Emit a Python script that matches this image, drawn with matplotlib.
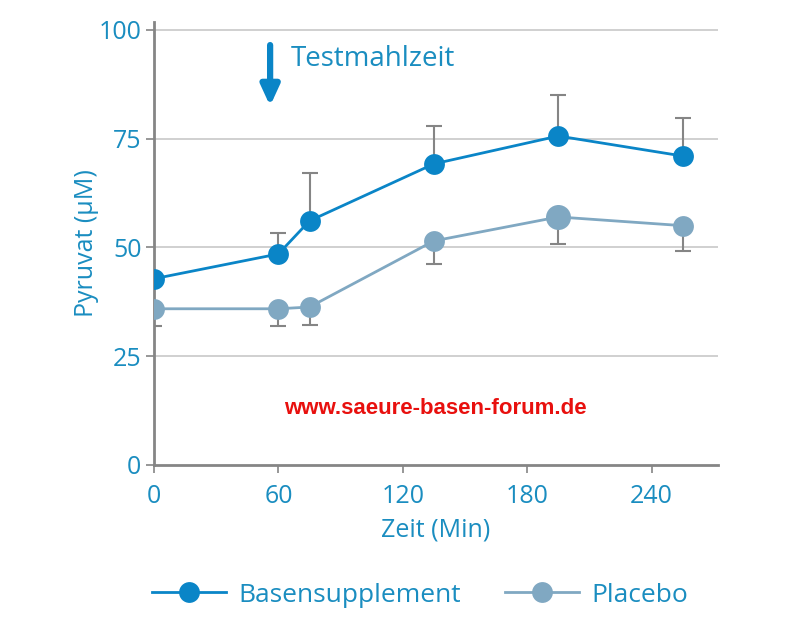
import matplotlib
matplotlib.use("Agg")
import matplotlib.pyplot as plt
import numpy as np
from matplotlib.lines import Line2D

# data
zeit = [0, 60, 75, 135, 195, 255]
basen = [42.8, 48.5, 56.1, 69.2, 75.6, 71.0]
basen_oben = [42.8, 53.3, 67.1, 77.9, 85.1, 79.8]
placebo = [35.9, 35.9, 36.3, 51.5, 57.0, 55.0]
placebo_unten = [32.0, 32.0, 32.2, 46.2, 50.8, 49.2]
y_ticks = [0, 25, 50, 75, 100]
x_ticks = [0, 60, 120, 180, 240]

blau = "#0a85c7"
grau_blau = "#80a8c2"
text_blau = "#1a8dc0"
achse = "#858585"

plt.rcParams["font.family"] = ["Open Sans", "DejaVu Sans"]


def main():
    fig = plt.figure(figsize=(8.09, 6.18), dpi=100)
    ax = fig.add_axes([154 / 809, 1 - 465 / 618, 564 / 809, 443 / 618])

    ax.set_xlim(0, 272)
    ax.set_ylim(0, 101.8)

    for v in y_ticks[1:]:
        ax.axhline(v, color="#c8c8c8", lw=1.2, zorder=1)

    b = np.array(basen)
    p = np.array(placebo)
    err_b = [np.zeros(len(b)), np.array(basen_oben) - b]
    err_p = [p - np.array(placebo_unten), np.zeros(len(p))]

    ax.errorbar(zeit, b, yerr=err_b, fmt="none", ecolor=achse, elinewidth=1.5,
                capsize=6, capthick=1.5, zorder=2)
    ax.errorbar(zeit, p, yerr=err_p, fmt="none", ecolor=achse, elinewidth=1.5,
                capsize=6, capthick=1.5, zorder=2)

    ax.plot(zeit, p, color=grau_blau, lw=2, zorder=3)
    sizes = [15, 15, 15, 15, 18, 15]
    for x, y, s in zip(zeit, p, sizes):
        ax.plot(x, y, "o", color=grau_blau, ms=s, mec="none", zorder=4)
    ax.plot(zeit, b, color=blau, lw=2, marker="o", ms=15, mec="none", zorder=5)

    for side in ["top", "right"]:
        ax.spines[side].set_visible(False)
    for side in ["left", "bottom"]:
        ax.spines[side].set_color(achse)
        ax.spines[side].set_linewidth(2)

    ax.set_xticks(x_ticks)
    ax.set_yticks(y_ticks)
    ax.tick_params(axis="both", colors=achse, width=1.2, length=6,
                   labelcolor=text_blau, labelsize=18)
    ax.tick_params(axis="x", pad=8)
    ax.tick_params(axis="y", pad=3)

    ax.set_xlabel("Zeit (Min)", color=text_blau, fontsize=18, labelpad=6)
    ax.set_ylabel("Pyruvat (µM)", color=text_blau, fontsize=18, labelpad=0)

    # Testmahlzeit arrow
    ax.annotate("", xy=(56, 82.5), xytext=(56, 96.5),
                arrowprops=dict(arrowstyle="-|>,head_length=1.2,head_width=0.55",
                                color=blau, lw=4.5, shrinkA=0, shrinkB=0),
                zorder=6)
    ax.text(66, 93.3, "Testmahlzeit", color=text_blau, fontsize=20,
            va="center", ha="left")

    fig.text(435 / 809, 1 - 408 / 618, "www.saeure-basen-forum.de",
             color="#e8100e", fontsize=16, fontweight="bold",
             family="Liberation Sans", ha="center", va="center")

    handles = [
        Line2D([], [], color=blau, lw=2, marker="o", ms=15, mec="none"),
        Line2D([], [], color=grau_blau, lw=2, marker="o", ms=15, mec="none"),
    ]
    leg = fig.legend(handles, ["Basensupplement", "Placebo"], loc="center",
                     bbox_to_anchor=(420 / 809, 1 - 595 / 618), ncol=2,
                     frameon=False, fontsize=19, handlelength=2.8,
                     columnspacing=1.7, handletextpad=0.45)
    for t in leg.get_texts():
        t.set_color(text_blau)

    fig.savefig("out.png", dpi=100)


if __name__ == "__main__":
    main()
